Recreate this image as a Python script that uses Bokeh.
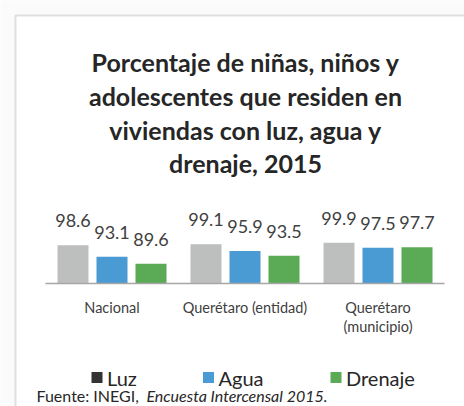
from bokeh.plotting import figure
from bokeh.models import Range1d, ColumnDataSource, LabelSet, Label, BoxAnnotation
from bokeh.transform import dodge
from bokeh.core.properties import value
from bokeh.embed import file_html
from bokeh.resources import INLINE

# ---- data ----
categories = ["Nacional", "Querétaro (entidad)", "Querétaro\n(municipio)"]
luz = [98.6, 99.1, 99.9]
agua = [93.1, 95.9, 97.5]
drenaje = [89.6, 93.5, 97.7]
series_names = ["Luz", "Agua", "Drenaje"]
title_lines = ["Porcentaje de niñas, niños y",
               "adolescentes que residen en",
               "viviendas con luz, agua y",
               "drenaje, 2015"]
source_a = "Fuente: INEGI, "
source_b = "Encuesta Intercensal 2015."

# ---- layout (page pixel coordinates; Bokeh page has no body margin) ----
W, H = 464, 406
base_val = 80.0
base_px = 283.0        # y (from top) of value 80
px_per_unit = 2.05
cat0_px = 111.5
cat_step = 133.0

FONT = "Lato"
TXT = "#404040"
colors = ["#BDBFBE", "#4A9AD4", "#5BAA55"]
legend_colors = ["#333333", "#4A9AD4", "#5BAA55"]

x_start = -cat0_px / cat_step
x_end = (W - cat0_px) / cat_step
y_start = base_val - (H - base_px) / px_per_unit
y_end = base_val + base_px / px_per_unit

p = figure(width=W, height=H, x_range=Range1d(x_start, x_end),
           y_range=Range1d(y_start, y_end), output_backend="svg",
           toolbar_location=None, x_axis_location=None, y_axis_location=None,
           min_border=0)
p.grid.visible = False
p.outline_line_color = None
p.background_fill_color = "#fbfbfb"
p.border_fill_color = "#fbfbfb"
p.extra_x_ranges = {"px": Range1d(0, W)}
p.extra_y_ranges = {"px": Range1d(H, 0)}

# chart box
p.add_layout(BoxAnnotation(left=15, right=W + 20, top=15, bottom=H + 20,
                           x_range_name="px", y_range_name="px",
                           fill_color="white", fill_alpha=1.0,
                           line_color="#9a9a9a", line_width=2, level="underlay"))

idx = list(range(len(categories)))
src = ColumnDataSource(dict(idx=idx, luz=luz, agua=agua, drenaje=drenaje,
                            luz_t=[f"{v:.1f}" for v in luz],
                            agua_t=[f"{v:.1f}" for v in agua],
                            drenaje_t=[f"{v:.1f}" for v in drenaje]))

offset = 39.0 / cat_step
bw = 31.0 / cat_step
cols = ["luz", "agua", "drenaje"]
for j, col in enumerate(cols):
    off = (j - 1) * offset
    p.vbar(x=dodge("idx", off, range=p.x_range), top=col, bottom=base_val,
           width=bw, source=src, fill_color=colors[j], line_color=None)
    p.add_layout(LabelSet(x=dodge("idx", off, range=p.x_range), y=col,
                          text=col + "_t", source=src, y_offset=18,
                          text_align="center", text_baseline="bottom",
                          text_font=value(FONT), text_font_size="18px",
                          text_color=TXT))

# baseline axis
p.segment(x0=[min(idx) - 0.5], x1=[max(idx) + 0.5], y0=[base_val], y1=[base_val],
          line_color="#A6A6A6", line_width=1.5)

# category labels
for i, c in enumerate(categories):
    p.add_layout(Label(x=i, y=298, y_range_name="px", text=c,
                       text_align="center", text_baseline="top",
                       text_font=FONT, text_font_size="14.5px",
                       text_color=TXT, text_line_height=1.15))

# title
baselines = [61, 95, 129, 162]
for t, b in zip(title_lines, baselines):
    p.add_layout(Label(x=245, y=b, x_range_name="px", y_range_name="px",
                       text=t, text_align="center", text_baseline="alphabetic",
                       text_font=FONT, text_font_style="bold",
                       text_font_size="25px", text_color="#262626"))

# legend
marker_x = [96.5, 208, 335.5]
p.scatter(x=marker_x, y=[377] * 3, x_range_name="px", y_range_name="px",
          marker="square", size=11, fill_color=legend_colors, line_color=None)
for name, mx in zip(series_names, marker_x):
    p.add_layout(Label(x=mx + 10, y=377, x_range_name="px", y_range_name="px",
                       text=name, text_align="left", text_baseline="middle",
                       text_font=FONT, text_font_size="20px",
                       text_color="#262626"))

# source
p.add_layout(Label(x=36, y=385, x_range_name="px", y_range_name="px",
                   text=source_a, text_baseline="top", text_font=FONT,
                   text_font_size="16px", text_color="#262626"))
p.add_layout(Label(x=146, y=385, x_range_name="px", y_range_name="px",
                   text=source_b, text_baseline="top", text_font=FONT,
                   text_font_style="italic",
                   text_font_size="16px", text_color="#262626"))

open("out.html", "w").write(file_html(p, INLINE))
